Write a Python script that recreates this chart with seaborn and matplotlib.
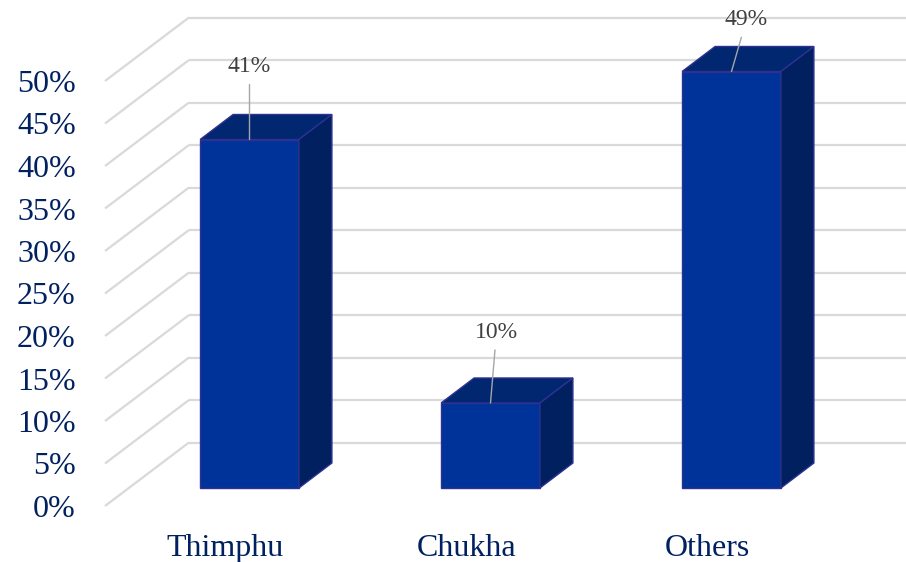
import matplotlib
matplotlib.use("Agg")
import matplotlib.pyplot as plt
import seaborn as sns
from matplotlib.patches import Polygon
from matplotlib.transforms import ScaledTranslation

# === DADOS ===
regions = ["Thimphu", "Chukha", "Others"]
shares = [41, 10, 49]
ticks = list(range(0, 55, 5))
tick_labels = [f"{t}%" for t in ticks]
# posição do rótulo de cada barra (pixels, relativo ao topo da barra)
label_offsets = [(0, 73), (6, 71), (15, 52)]

# === ESTILO ===
sns.set_theme(style="white")
plt.rcParams["font.family"] = ["Liberation Serif", "DejaVu Serif"]

FRONT = "#003399"
TOP = "#00276F"
SIDE = "#002060"
EDGE = "#2E3192"
NAVY = "#002060"
GRID = "#D9D9D9"

DPI = 100
W, H = 906, 562
# caixa frontal do gráfico em pixels
AX_LEFT, AX_W = 105, 723
AX_BOTTOM, AX_H = 506, 425
WALL_DX, WALL_DY = 84, 63.5   # profundidade das paredes
BAR_DX, BAR_DY = 24, 18       # deslocamento da face frontal das barras
DEPTH_DX, DEPTH_DY = 33, 25   # profundidade das barras

fig = plt.figure(figsize=(W / DPI, H / DPI), dpi=DPI)
ax = fig.add_axes([AX_LEFT / W, (H - AX_BOTTOM) / H, AX_W / W, AX_H / H])

sns.barplot(x=regions, y=shares, color=FRONT, width=0.41,
            edgecolor=EDGE, linewidth=1, saturation=1, ax=ax, zorder=3)
ax.set_xlim(-0.5, 2.5)
ax.set_ylim(0, 50)

# escala pixels -> unidades de dados
px_x = AX_W / 3.0
px_y = AX_H / 50.0

# === PAREDES / GRADE ===
x0 = -0.5
wx, wy = WALL_DX / px_x, WALL_DY / px_y
for t in ticks:
    ax.plot([x0, x0 + wx], [t, t + wy], color=GRID, lw=1.6,
            clip_on=False, zorder=0.5, solid_capstyle="butt")
    ax.plot([x0 + wx, 3.0 + wx], [t + wy, t + wy], color=GRID, lw=1.6,
            clip_on=False, zorder=0.5, solid_capstyle="butt")

# === BARRAS 3D ===
shift = ax.transData + ScaledTranslation(BAR_DX / DPI, BAR_DY / DPI, fig.dpi_scale_trans)
dx, dy = DEPTH_DX / px_x, DEPTH_DY / px_y
for p in ax.patches:
    p.set_transform(shift)
    p.set_clip_on(False)
    bx, bw, bh = p.get_x(), p.get_width(), p.get_height()
    top = Polygon([(bx, bh), (bx + bw, bh), (bx + bw + dx, bh + dy), (bx + dx, bh + dy)],
                  closed=True, facecolor=TOP, edgecolor=EDGE, lw=1,
                  transform=shift, clip_on=False, zorder=3)
    side = Polygon([(bx + bw, 0), (bx + bw + dx, dy), (bx + bw + dx, bh + dy), (bx + bw, bh)],
                   closed=True, facecolor=SIDE, edgecolor=EDGE, lw=1,
                   transform=shift, clip_on=False, zorder=3)
    ax.add_patch(top)
    ax.add_patch(side)

# === RÓTULOS DE DADOS ===
for p, val, off in zip(ax.patches[:len(shares)], shares, label_offsets):
    cx = p.get_x() + p.get_width() / 2
    ax.annotate(f"{val}%", xy=(cx, val), xycoords=shift,
                xytext=off, textcoords="offset pixels",
                ha="center", va="center", fontsize=17, color="#404040",
                arrowprops=dict(arrowstyle="-", color="#A6A6A6", lw=1,
                                shrinkA=3, shrinkB=0),
                annotation_clip=False, zorder=5)

# === EIXOS ===
ax.set_yticks(ticks)
ax.set_yticklabels(tick_labels)
ax.tick_params(axis="y", length=0, pad=21, labelsize=23, labelcolor=NAVY)
ax.tick_params(axis="x", length=0, pad=20, labelsize=23, labelcolor=NAVY)
ax.set_xlabel("")
ax.set_ylabel("")
for s in ax.spines.values():
    s.set_visible(False)
ax.patch.set_alpha(0)

fig.savefig("out.png", dpi=DPI)
